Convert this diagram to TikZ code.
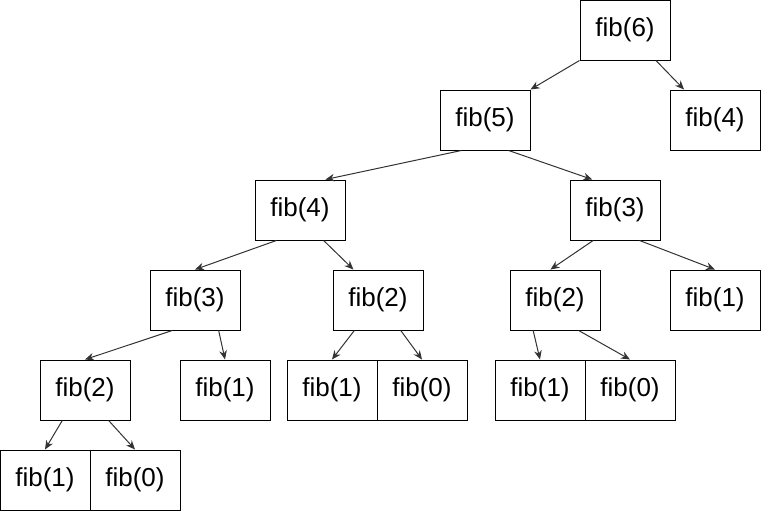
\documentclass[tikz,border=0pt]{standalone}
\usepackage{fontspec}
\setmainfont{Liberation Sans}
\usepackage{tikz}
\usetikzlibrary{arrows.meta, calc}

\begin{document}
\begin{tikzpicture}[
  x=0.5pt, y=-0.5pt,
  call/.style={draw, line width=0.5pt, minimum width=45pt, minimum height=30pt, inner sep=0pt, font=\fontsize{13}{15}\selectfont},
  arrow/.style={-{Stealth[length=4.5pt, width=3.8pt]}, line width=0.5pt, color=black!80}
]
  \useasboundingbox (0,0) rectangle (761,511);

  \node[call] (f6)  at (625,30)  {fib(6)};
  \node[call] (f5)  at (485,120) {fib(5)};
  \node[call] (f4r) at (715,120) {fib(4)};
  \node[call] (f4)  at (300,210) {fib(4)};
  \node[call] (f3r) at (615,210) {fib(3)};
  \node[call] (f3)  at (195,300) {fib(3)};
  \node[call] (f2m) at (378,300) {fib(2)};
  \node[call] (f2r) at (555,300) {fib(2)};
  \node[call] (f1r) at (715,300) {fib(1)};
  \node[call] (f2)  at (85,390)  {fib(2)};
  \node[call] (f1a) at (225,390) {fib(1)};
  \node[call] (f1m) at (332,390) {fib(1)};
  \node[call] (f0m) at (422,390) {fib(0)};
  \node[call] (f1d) at (540,390) {fib(1)};
  \node[call] (f0d) at (630,390) {fib(0)};
  \node[call] (f1)  at (45,480)  {fib(1)};
  \node[call] (f0)  at (135,480) {fib(0)};

  % calls, from a point on the caller's bottom to a point on the callee's top
  \draw[arrow] (f6.south west) -- (f5.north east);
  \draw[arrow] ($(f6.south west)!0.84!(f6.south east)$) -- ($(f4r.north west)!0.16!(f4r.north east)$);
  \draw[arrow] ($(f5.south west)!0.24!(f5.south east)$) -- ($(f4.north west)!0.78!(f4.north east)$);
  \draw[arrow] ($(f5.south west)!0.76!(f5.south east)$) -- ($(f3r.north west)!0.25!(f3r.north east)$);
  \draw[arrow] ($(f4.south west)!0.24!(f4.south east)$) -- (f3.north);
  \draw[arrow] ($(f4.south west)!0.76!(f4.south east)$) -- ($(f2m.north west)!0.23!(f2m.north east)$);
  \draw[arrow] ($(f3r.south west)!0.26!(f3r.south east)$) -- ($(f2r.north west)!0.45!(f2r.north east)$);
  \draw[arrow] ($(f3r.south west)!0.77!(f3r.south east)$) -- (f1r.north);
  \draw[arrow] ($(f3.south west)!0.25!(f3.south east)$) -- (f2.north);
  \draw[arrow] ($(f3.south west)!0.76!(f3.south east)$) -- (f1a.north);
  \draw[arrow] ($(f2.south west)!0.25!(f2.south east)$) -- (f1.north);
  \draw[arrow] ($(f2.south west)!0.76!(f2.south east)$) -- (f0.north);
  \draw[arrow] ($(f2m.south west)!0.24!(f2m.south east)$) -- (f1m.north);
  \draw[arrow] ($(f2m.south west)!0.75!(f2m.south east)$) -- (f0m.north);
  \draw[arrow] ($(f2r.south west)!0.26!(f2r.south east)$) -- (f1d.north);
  \draw[arrow] ($(f2r.south west)!0.76!(f2r.south east)$) -- (f0d.north);
\end{tikzpicture}
\end{document}
